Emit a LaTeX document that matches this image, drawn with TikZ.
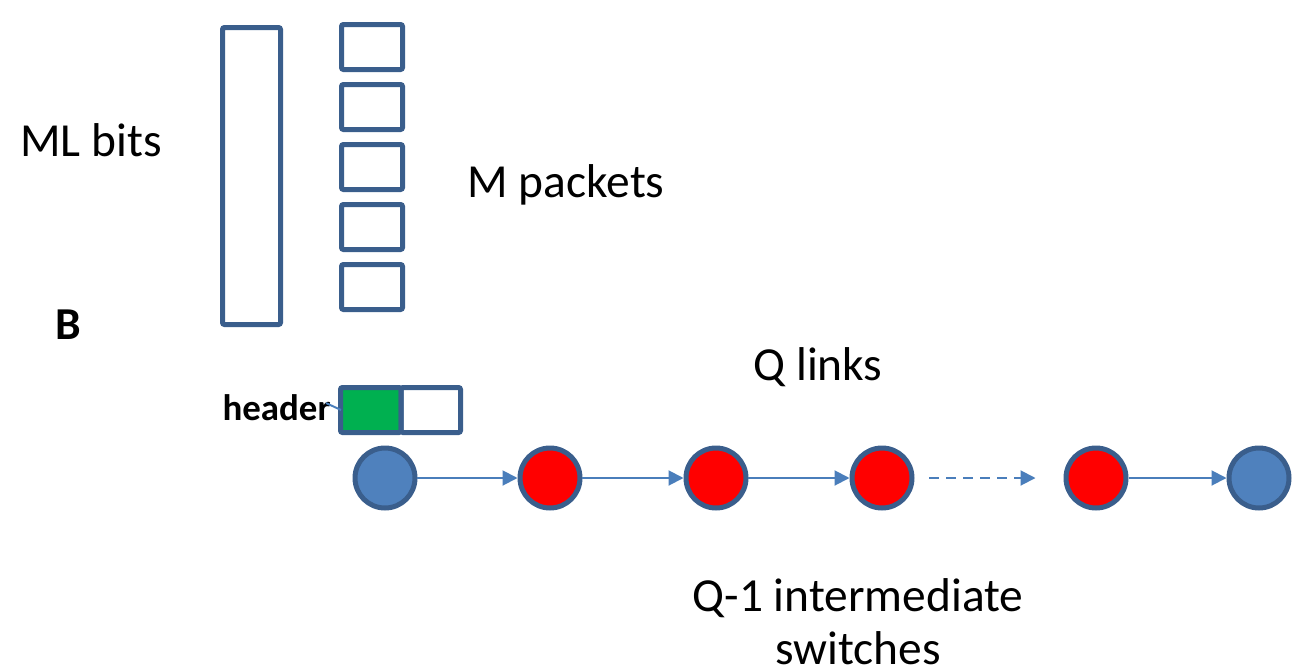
\documentclass[tikz,border=0pt]{standalone}
\usepackage{fontspec}
\setmainfont{Carlito}
\usepackage{tikz}
\usetikzlibrary{arrows.meta}

\definecolor{boxblue}{RGB}{58,94,140}
\definecolor{nodeblue}{RGB}{79,129,189}
\definecolor{linkblue}{RGB}{74,126,187}
\definecolor{hdrgreen}{RGB}{0,176,80}

\begin{document}
\begin{tikzpicture}[x=0.02cm,y=-0.02cm,
  pkt/.style={draw=boxblue,line width=0.1cm,rounded corners=0.04cm},
  sw/.style={circle,draw=boxblue,line width=0.1cm,minimum size=1.2cm,inner sep=0pt},
  link/.style={linkblue,line width=1.1pt,-{Triangle[length=0.3cm,width=0.3cm]}},
  big/.style={font=\fontsize{27}{30}\selectfont}]
\useasboundingbox (0,0) rectangle (1296,670);

% data and its packets
\draw[pkt] (222.5,27.5) rectangle (280.5,324.5);
\foreach \i in {0,...,4}
  \draw[pkt] (341.5,24.5+60*\i) rectangle (402.5,69.5+60*\i);
\node[big] (mlbits) at (91,140) {ML bits};
\node[big] (mpkts) at (566,185) {M packets};
\node[big,font=\fontsize{26}{29.5}\selectfont\bfseries] (blabel) at (68,325) {B};

% one packet with its header
\draw[pkt,fill=hdrgreen] (340.5,387.5) rectangle (401,432.5);
\draw[pkt] (401,387.5) rectangle (460.5,432.5);
\coordinate (hdr) at (341,410);
\node[font=\fontsize{21}{24}\selectfont\bfseries,anchor=east,inner sep=0pt] (hdrtext) at (331,408) {header};
\draw[linkblue,line width=1.1pt] ([xshift=-0.1cm,yshift=0.1cm]hdrtext.east) -- (hdr);

% the path
\node[sw,fill=nodeblue] (src) at (385,478) {};
\node[sw,fill=red] (sw1) at (550,478) {};
\node[sw,fill=red] (sw2) at (716,478) {};
\node[sw,fill=red] (sw3) at (882,478) {};
\node[sw,fill=red] (sw4) at (1096,478) {};
\node[sw,fill=nodeblue] (dst) at (1259,478) {};

\draw[link] (src) -- (sw1);
\draw[link] (sw1) -- (sw2);
\draw[link] (sw2) -- (sw3);
\draw[link,dashed,dash pattern=on 0.2cm off 0.14cm,shorten <=0.3cm,shorten >=0.56cm] (sw3) -- (sw4);
\draw[link] (sw4) -- (dst);

\node[big] (qlinks) at (818,367) {Q links};
\node[big,align=center] (qsw) at (858,622) {Q-1 intermediate\\switches};
\end{tikzpicture}
\end{document}
